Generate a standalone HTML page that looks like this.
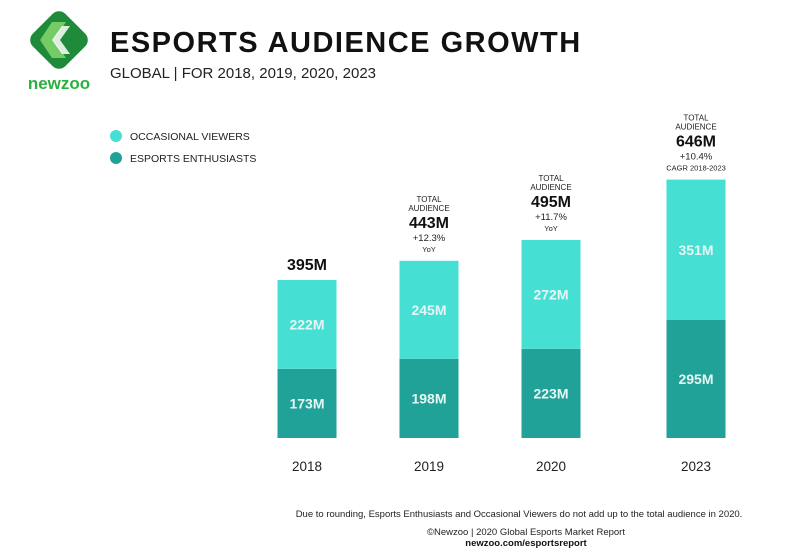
<!DOCTYPE html>
<html><head><meta charset="utf-8"><style>
body{margin:0;background:#fff;}
svg text{font-family:"Liberation Sans",sans-serif;}
</style></head><body>
<svg id="c" width="787" height="555" xmlns="http://www.w3.org/2000/svg">
<g>
<rect x="36" y="17" width="46" height="46" rx="9" transform="rotate(45 59 40)" fill="#1f8a3a"/>
<path d="M52 22 L66 22 L54 40 L66 58 L52 58 L40 40 Z" fill="#7ed36a" opacity="0.9"/>
<path d="M62 26 L70 26 L60 40 L70 54 L62 54 L52 40 Z" fill="#fff" opacity="0.85"/>
<text x="59" y="89" font-size="17" font-weight="bold" fill="#2bb040" text-anchor="middle">newzoo</text>
</g>
<text x="110" y="52" font-size="29" font-weight="900" fill="#111" style="letter-spacing:1.5px">ESPORTS AUDIENCE GROWTH</text>
<text x="110" y="78" font-size="15" fill="#222">GLOBAL | FOR 2018, 2019, 2020, 2023</text>
<g>
<circle cx="116" cy="136" r="6" fill="#45dfd3"/>
<text x="130" y="140" font-size="10.5" fill="#222">OCCASIONAL VIEWERS</text>
<circle cx="116" cy="158" r="6" fill="#21a298"/>
<text x="130" y="162" font-size="10.5" fill="#222">ESPORTS ENTHUSIASTS</text>
</g>
<g id="bars"></g>
<text x="519" y="517" font-size="9.5" fill="#222" text-anchor="middle">Due to rounding, Esports Enthusiasts and Occasional Viewers do not add up to the total audience in 2020.</text>
<text x="526" y="535" font-size="9.5" fill="#222" text-anchor="middle">©Newzoo | 2020 Global Esports Market Report</text>
<text x="526" y="546" font-size="9.5" font-weight="bold" fill="#111" text-anchor="middle">newzoo.com/esportsreport</text>
</svg>
<script>
const years = ["2018","2019","2020","2023"];
const enthusiasts = [173,198,223,295];
const occasional = [222,245,272,351];
const totals = [395,443,495,646];
const growthLabels = ["","+12.3%","+11.7%","+10.4%"];
const growthNotes = ["","YoY","YoY","CAGR 2018-2023"];
const xCenters = [307,429,551,696];
const baseY = 438, k = 0.4, bw = 59;
const y = v => baseY - v * k;
const g = document.getElementById('bars');
const NS = "http://www.w3.org/2000/svg";
function mk(tag, attrs, txt){const e=document.createElementNS(NS,tag);for(const a in attrs)e.setAttribute(a,attrs[a]);if(txt!==undefined)e.textContent=txt;g.appendChild(e);return e;}
years.forEach((yr,i)=>{
  const cx=xCenters[i], x=cx-bw/2;
  const eTop=y(enthusiasts[i]), tTop=y(totals[i]);
  let r=mk('rect',{x:x,y:eTop,width:bw,height:baseY-eTop,fill:'#21a298'});
  
  
  r=mk('rect',{x:x,y:tTop,width:bw,height:eTop-tTop,fill:'#45dfd3'});
  
  
  let t=mk('text',{x:cx,y:(eTop+baseY)/2+5,'font-size':14,'font-weight':'bold',fill:'#e6f7f5','text-anchor':'middle'},enthusiasts[i]+'M');
  
  
  t=mk('text',{x:cx,y:(eTop+tTop)/2+5,'font-size':14,'font-weight':'bold',fill:'#e6f7f5','text-anchor':'middle'},occasional[i]+'M');
  
  
  t=mk('text',{x:cx,y:471,'font-size':13.5,fill:'#222','text-anchor':'middle'},yr);
  
  
  if(i===0){
    t=mk('text',{x:cx,y:tTop-10,'font-size':16,'font-weight':'bold',fill:'#111','text-anchor':'middle'},totals[i]+'M');
    
    
  } else {
    t=mk('text',{x:cx,y:tTop-59,'font-size':8,fill:'#222','text-anchor':'middle'},'TOTAL');
    
    
    t=mk('text',{x:cx,y:tTop-50,'font-size':8,fill:'#222','text-anchor':'middle'},'AUDIENCE');
    
    
    t=mk('text',{x:cx,y:tTop-33,'font-size':16,'font-weight':'bold',fill:'#111','text-anchor':'middle'},totals[i]+'M');
    
    
    t=mk('text',{x:cx,y:tTop-20,'font-size':9.5,fill:'#222','text-anchor':'middle'},growthLabels[i]);
    
    
    t=mk('text',{x:cx,y:tTop-9,'font-size':7.5,fill:'#222','text-anchor':'middle'},growthNotes[i]);
    
    
  }
});
</script>
</body></html>
